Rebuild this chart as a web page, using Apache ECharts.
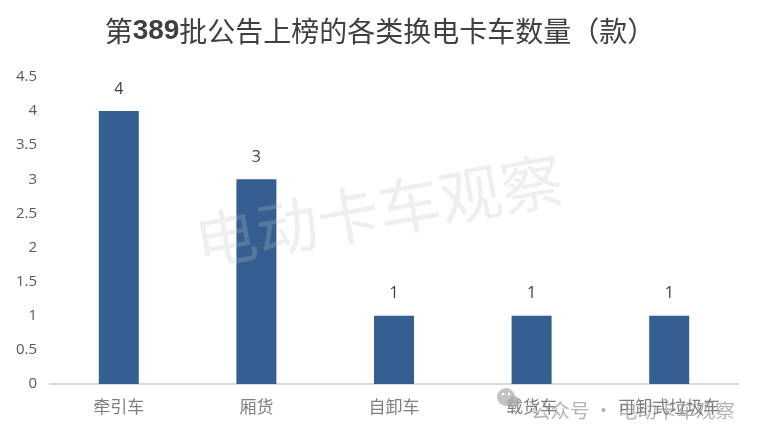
<!DOCTYPE html>
<html>
<head>
<meta charset="utf-8">
<style>html,body{margin:0;padding:0;background:#fff}#c{width:760px;height:432px}</style>
<script src="https://cdn.jsdelivr.net/npm/echarts@6/dist/echarts.min.js"></script>
</head>
<body>
<div id="c"></div>
<script>
var categories = ['牵引车', '厢货', '自卸车', '载货车', '可卸式垃圾车'];
var counts = [4, 3, 1, 1, 1];
var yMax = 4.5;
var yStep = 0.5;
var cjk = '"Noto Sans CJK SC", "Liberation Sans", sans-serif';
var chart = echarts.init(document.getElementById('c'), null, {renderer: 'canvas'});
chart.setOption({
  animation: false,
  backgroundColor: '#ffffff',
  title: {
    text: '{a|第}{b|389}{a|批公告上榜的各类换电卡车数量（款）}',
    left: 375, top: 12, textAlign: 'center',
    textStyle: {
      rich: {
        a: {fontFamily: cjk, fontSize: 28, color: '#404040', fontWeight: 'normal'},
        b: {fontFamily: '"Liberation Sans", sans-serif', fontSize: 28, color: '#404040', fontWeight: 'bold'}
      }
    }
  },
  grid: {left: 50, right: 22, top: 77, bottom: 48},
  xAxis: {
    type: 'category', data: categories,
    axisLine: {lineStyle: {color: '#d9d9d9', width: 2}},
    axisTick: {show: false},
    axisLabel: {color: '#7f7f7f', fontSize: 17, fontFamily: cjk, margin: 14, interval: 0}
  },
  yAxis: {
    type: 'value', min: 0, max: yMax, interval: yStep,
    axisLine: {show: false}, axisTick: {show: false}, splitLine: {show: false},
    axisLabel: {color: '#595959', fontSize: 15, fontFamily: '"Open Sans", sans-serif', margin: 13,
      formatter: function (v) { return String(v); }}
  },
  series: [{
    type: 'bar', data: counts, barWidth: 40,
    itemStyle: {color: '#355f91'},
    label: {show: true, position: 'top', distance: 14, color: '#404040', fontSize: 16, fontFamily: '"Open Sans", sans-serif'}
  }],
  graphic: [
    {type: 'text', z: 10, x: 190, y: 212, rotation: 10 * Math.PI / 180,
      style: {text: '电动卡车观察', fill: 'rgba(190,190,190,0.25)', font: '400 62px ' + cjk, textBaseline: 'middle'}},
    {type: 'circle', z: 11, shape: {cx: 506, cy: 397, r: 9}, style: {fill: 'rgba(170,170,170,0.7)'}},
    {type: 'circle', z: 11, shape: {cx: 514, cy: 402, r: 6}, style: {fill: 'rgba(170,170,170,0.7)'}},
    {type: 'circle', z: 12, shape: {cx: 503, cy: 394, r: 1.3}, style: {fill: '#ffffff'}},
    {type: 'circle', z: 12, shape: {cx: 509, cy: 394, r: 1.3}, style: {fill: '#ffffff'}},
    {type: 'text', z: 11, x: 531, y: 401,
      style: {text: '公众号 · 电动卡车观察', fill: 'rgba(130,130,130,0.6)', font: '400 19.5px ' + cjk, textBaseline: 'middle'}}
  ]
});
</script>
</body>
</html>
